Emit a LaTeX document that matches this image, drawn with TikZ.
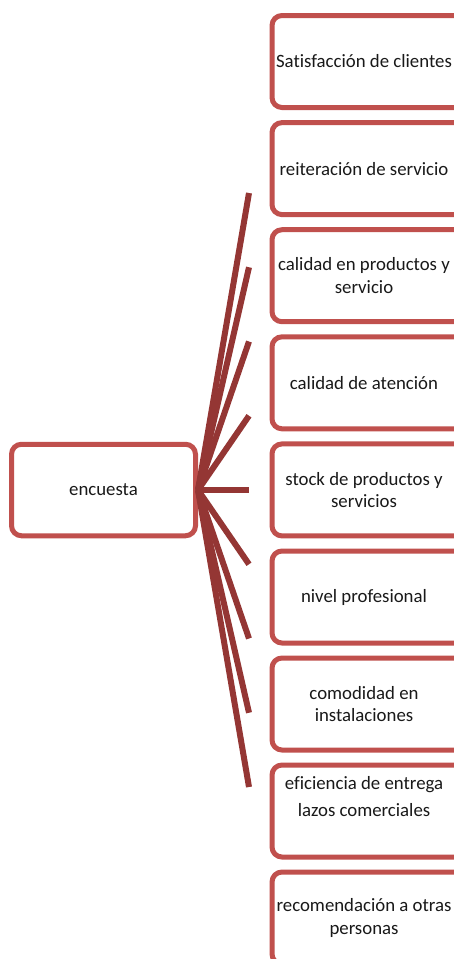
\documentclass[tikz,border=0pt]{standalone}
\usepackage{fontspec}
\setmainfont{Carlito}[Ligatures={NoCommon,NoContextual}]
\definecolor{boxred}{HTML}{C0504D}
\definecolor{linkred}{HTML}{943634}
\begin{document}
\begin{tikzpicture}[x=1pt,y=-1pt,
  item/.style={minimum width=184pt, minimum height=92pt, inner sep=0pt,
    outer sep=0pt, align=center,
    font=\fontsize{18.8}{22.5}\selectfont, text=black!90},
  frame/.style={draw=boxred, line width=5pt, rounded corners=10pt, fill=white},
  label/.style={inner sep=0pt, align=center,
    font=\fontsize{18.8}{27}\selectfont, text=black!90},
  link/.style={draw=linkred, line width=6pt, line cap=butt}]
\useasboundingbox (0,0) rectangle (454,959);
\clip (0,0) rectangle (454,959);

% root
\node[item, frame, minimum height=91.5pt, outer sep=2.5pt] (root) at (103.5,490) {encuesta};

% frames of the topic column (they run past the right margin)
\foreach \y in {61.5,168.6,275.7,382.8,489.9,597,704,811,918}
  \draw[frame] (272,\y-46) rectangle (466,\y+46);

% topics
\node[item] (b1) at (364,61.5)  {Satisfacción de clientes};
\node[item] (b2) at (364,168.6) {reiteración de servicio};
\node[item] (b3) at (364,275.7) {calidad en productos y\\servicio};
\node[item] (b4) at (364,382.8) {calidad de atención};
\node[item] (b5) at (364,489.9) {stock de productos y\\servicios};
\node[item] (b6) at (364,597)   {nivel profesional};
\node[item] (b7) at (364,704)   {comodidad en\\instalaciones};
\node[item] (b8) at (364,811)   {};
\node[label] (t8) at (364,797) {eficiencia de entrega\\lazos comerciales};
\node[item] (b9) at (364,918)   {recomendación a otras\\personas};

% fan of spokes
\foreach \i/\y in {1/193,2/267.25,3/341.5,4/415.75,5/490,6/564.25,7/638.5,8/712.75,9/787}{
  \coordinate (e\i) at (249,\y);
  \draw[link] (root.east) -- (e\i);
}
\end{tikzpicture}
\end{document}
